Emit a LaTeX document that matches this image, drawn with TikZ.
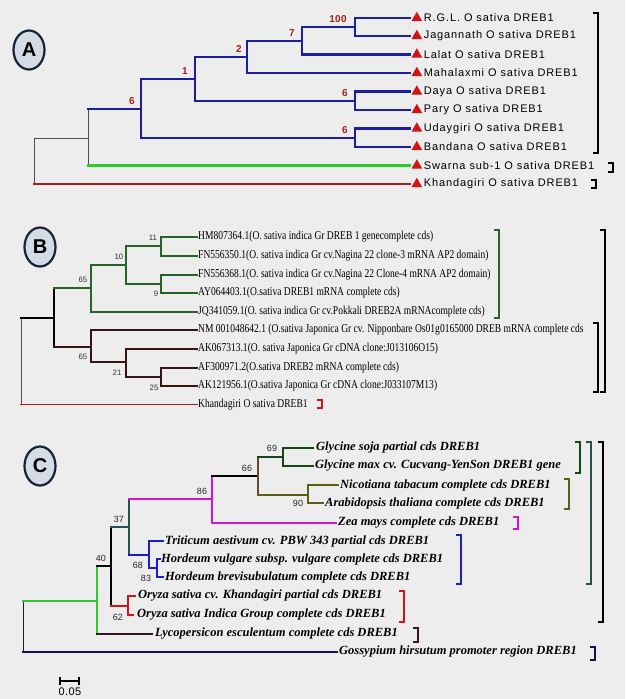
\documentclass[tikz,border=0pt]{standalone}
\usepackage{fontspec}
\setmainfont{Liberation Serif}
\setsansfont{Liberation Sans}
\newfontfamily\leafAfont[LetterSpace=8]{Liberation Sans}
\newfontfamily\leafBfont[FakeStretch=0.795]{Liberation Serif}
\newfontfamily\leafCfont{Liberation Serif}
\newfontfamily\bootfont[LetterSpace=4]{Liberation Sans}
\usetikzlibrary{positioning}
\usetikzlibrary{shapes.geometric}

\definecolor{bg}{RGB}{237,237,237}
\definecolor{panelfill}{RGB}{212,219,229}
\definecolor{panelline}{RGB}{25,35,55}
\definecolor{ablue}{RGB}{30,30,160}
\definecolor{agreen}{RGB}{40,205,40}
\definecolor{ared}{RGB}{170,30,30}
\definecolor{tri}{RGB}{210,20,20}
\definecolor{bootred}{RGB}{160,30,30}
\definecolor{bgreen}{RGB}{40,100,40}
\definecolor{bdark}{RGB}{55,20,20}
\definecolor{cgreen}{RGB}{50,200,50}
\definecolor{cteal}{RGB}{40,80,80}
\definecolor{cmag}{RGB}{210,20,210}
\definecolor{cblue}{RGB}{30,30,200}
\definecolor{cred}{RGB}{210,20,20}
\definecolor{cdgreen}{RGB}{25,70,25}
\definecolor{cbrown}{RGB}{95,75,45}
\definecolor{colive}{RGB}{95,95,20}
\definecolor{cmaroon}{RGB}{55,20,35}
\definecolor{cnavy}{RGB}{20,20,70}

\tikzset{panel/.style = {ellipse, fill=panelfill, draw=panelline, line width=2.2pt,
                         minimum width=31pt, minimum height=39pt, inner sep=0pt,
                         font=\sffamily\bfseries\fontsize{20}{20}\selectfont}}
\tikzset{br/.style = {line cap=rect},
         thinbr/.style = {br, line width=0.9pt, draw=black!70},
         bluebr/.style = {br, line width=2.6pt, draw=ablue},
         greenbr/.style = {br, line width=2.2pt, draw=agreen},
         redbr/.style = {br, line width=1.6pt, draw=ared}}
\tikzset{leafa/.style = {inner sep=0pt, font=\leafAfont\fontsize{11}{13}\selectfont},
         leafb/.style = {inner sep=0pt, font=\leafBfont\fontsize{12}{14}\selectfont},
         leafc/.style = {inner sep=0pt, font=\leafCfont\bfseries\itshape\fontsize{12.5}{14}\selectfont},
         marker/.style = {regular polygon, regular polygon sides=3, fill=tri,
                          minimum size=12.5pt, inner sep=0pt},
         boota/.style = {inner sep=0pt, text=bootred, font=\bootfont\bfseries\fontsize{10}{10}\selectfont},
         bootb/.style = {inner sep=0pt, text=black!80, font=\sffamily\fontsize{7.8}{8}\selectfont},
         bootc/.style = {inner sep=0pt, text=black!85, font=\sffamily\fontsize{9}{9}\selectfont}}

\newcommand{\cladebr}[4]{\draw[#1] (#2-5,#3) -- (#2,#3) -- (#2,#4) -- (#2-5,#4);}

\begin{document}
\begin{tikzpicture}[x=1pt,y=-1pt]
\fill[bg] (0,0) rectangle (625,699);
\useasboundingbox (0,0) rectangle (625,699);

% ---------- A ----------
\node[panel] (pA) at (29,50) {A};

\coordinate (a0) at (34,161);
\coordinate (a1) at (88,138);
\coordinate (a2) at (141,109);
\coordinate (a3) at (195,79);
\coordinate (a4) at (247,57);
\coordinate (a5) at (302,41);
\coordinate (a6) at (355,27);
\coordinate (a7) at (355,101);
\coordinate (a8) at (355,138);

\coordinate (rgl) at (410,18);
\coordinate (jag) at (410,36);
\coordinate (lalat) at (410,54.5);
\coordinate (maha) at (410,73);
\coordinate (daya) at (410,91.5);
\coordinate (pary) at (410,110);
\coordinate (uday) at (410,128.5);
\coordinate (band) at (410,147);
\coordinate (swarna) at (410,165.5);
\coordinate (khandA) at (410,184);

\draw[thinbr] (a0 |- a1) -- (a0 |- khandA);
\draw[thinbr] (a0 |- a1) -- (a1);
\draw[redbr] (a0 |- khandA) -- (khandA);
\draw[thinbr] (a1 |- a2) -- (a1 |- swarna);
\draw[bluebr] (a1 |- a2) -- (a2);
\draw[greenbr] (a1 |- swarna) -- (swarna);
\draw[bluebr] (a2 |- a3) -- (a2 |- a8);
\draw[bluebr] (a2 |- a3) -- (a3);
\draw[bluebr] (a2 |- a8) -- (a8);
\draw[bluebr] (a3 |- a4) -- (a3 |- a7);
\draw[bluebr] (a3 |- a4) -- (a4);
\draw[bluebr] (a3 |- a7) -- (a7);
\draw[bluebr] (a4 |- a5) -- (a4 |- maha);
\draw[bluebr] (a4 |- a5) -- (a5);
\draw[bluebr] (a4 |- maha) -- (maha);
\draw[bluebr] (a5 |- a6) -- (a5 |- lalat);
\draw[bluebr] (a5 |- a6) -- (a6);
\draw[bluebr] (a5 |- lalat) -- (lalat);
\draw[bluebr] (a6 |- rgl) -- (a6 |- jag);
\draw[bluebr] (a6 |- rgl) -- (rgl);
\draw[bluebr] (a6 |- jag) -- (jag);
\draw[bluebr] (a7 |- daya) -- (a7 |- pary);
\draw[bluebr] (a7 |- daya) -- (daya);
\draw[bluebr] (a7 |- pary) -- (pary);
\draw[bluebr] (a8 |- uday) -- (a8 |- band);
\draw[bluebr] (a8 |- uday) -- (uday);
\draw[bluebr] (a8 |- band) -- (band);

\node[boota] (ba2) at (132,101) {6};
\node[boota] (ba3) at (185,71) {1};
\node[boota] (ba4) at (239,49) {2};
\node[boota] (ba5) at (292,33) {7};
\node[boota] (ba6) at (338,19) {100};
\node[boota] (ba7) at (345,93) {6};
\node[boota] (ba8) at (345,130) {6};

\node[marker, right=3pt of rgl] (m1) {};
\node[leafa, right=3pt of m1] (t1) {R.G.L. O sativa DREB1};
\node[marker, right=3pt of jag] (m2) {};
\node[leafa, right=3pt of m2] (t2) {Jagannath O sativa DREB1};
\node[marker, right=3pt of lalat] (m3) {};
\node[leafa, right=3pt of m3] (t3) {Lalat O sativa DREB1};
\node[marker, right=3pt of maha] (m4) {};
\node[leafa, right=3pt of m4] (t4) {Mahalaxmi O sativa DREB1};
\node[marker, right=3pt of daya] (m5) {};
\node[leafa, right=3pt of m5] (t5) {Daya O sativa DREB1};
\node[marker, right=3pt of pary] (m6) {};
\node[leafa, right=3pt of m6] (t6) {Pary O sativa DREB1};
\node[marker, right=3pt of uday] (m7) {};
\node[leafa, right=3pt of m7] (t7) {Udaygiri O sativa DREB1};
\node[marker, right=3pt of band] (m8) {};
\node[leafa, right=3pt of m8] (t8) {Bandana O sativa DREB1};
\node[marker, right=3pt of swarna] (m9) {};
\node[leafa, right=3pt of m9] (t9) {Swarna sub-1 O sativa DREB1};
\node[marker, right=3pt of khandA] (m10) {};
\node[leafa, right=3pt of m10] (t10) {Khandagiri O sativa DREB1};

\cladebr{line width=1.2pt}{598}{13}{153}
\cladebr{line width=1.2pt}{613}{163}{172}
\cladebr{line width=1.2pt}{596}{180}{188}

% ---------- B ----------
\node[panel] (pB) at (40,247) {B};

\coordinate (b0) at (21,361);
\coordinate (b1) at (54,318);
\coordinate (b2) at (91,288);
\coordinate (b3) at (126,265);
\coordinate (b4) at (161,246);
\coordinate (b5) at (161,284);
\coordinate (b6) at (91,347);
\coordinate (b7) at (126,362);
\coordinate (b8) at (161,377);

\coordinate (hm) at (197,237);
\coordinate (fn50) at (197,256);
\coordinate (fn68) at (197,274.5);
\coordinate (ay) at (197,293);
\coordinate (jq) at (197,311.5);
\coordinate (nm) at (197,330);
\coordinate (ak67) at (197,349);
\coordinate (af) at (197,367.5);
\coordinate (ak21) at (197,386);
\coordinate (khandB) at (197,404.5);

\draw[thinbr] (b0 |- b1) -- (b0 |- khandB);
\draw[br, line width=2pt] (b0 |- b1) -- (b1);
\draw[br, line width=1.8pt, draw=ared] (b0 |- khandB) -- (khandB);
\draw[br, line width=2pt] (b1 |- b2) -- (b1 |- b6);
\draw[br, line width=2pt, draw=bgreen] (b1 |- b2) -- (b2);
\draw[br, line width=2pt, draw=bdark] (b1 |- b6) -- (b6);
\draw[br, line width=2pt, draw=bgreen] (b2 |- b3) -- (b2 |- jq);
\draw[br, line width=2pt, draw=bgreen] (b2 |- b3) -- (b3);
\draw[br, line width=2pt, draw=bgreen] (b2 |- jq) -- (jq);
\draw[br, line width=2pt, draw=bgreen] (b3 |- b4) -- (b3 |- b5);
\draw[br, line width=2pt, draw=bgreen] (b3 |- b4) -- (b4);
\draw[br, line width=2pt, draw=bgreen] (b3 |- b5) -- (b5);
\draw[br, line width=2pt, draw=bgreen] (b4 |- hm) -- (b4 |- fn50);
\draw[br, line width=2pt, draw=bgreen] (b4 |- hm) -- (hm);
\draw[br, line width=2pt, draw=bgreen] (b4 |- fn50) -- (fn50);
\draw[br, line width=2pt, draw=bgreen] (b5 |- fn68) -- (b5 |- ay);
\draw[br, line width=2pt, draw=bgreen] (b5 |- fn68) -- (fn68);
\draw[br, line width=2pt, draw=bgreen] (b5 |- ay) -- (ay);
\draw[br, line width=2pt, draw=bdark] (b6 |- nm) -- (b6 |- b7);
\draw[br, line width=2pt, draw=bdark] (b6 |- nm) -- (nm);
\draw[br, line width=2pt, draw=bdark] (b6 |- b7) -- (b7);
\draw[br, line width=2pt, draw=bdark] (b7 |- ak67) -- (b7 |- b8);
\draw[br, line width=2pt, draw=bdark] (b7 |- ak67) -- (ak67);
\draw[br, line width=2pt, draw=bdark] (b7 |- b8) -- (b8);
\draw[br, line width=2pt, draw=bdark] (b8 |- af) -- (b8 |- ak21);
\draw[br, line width=2pt, draw=bdark] (b8 |- af) -- (af);
\draw[br, line width=2pt, draw=bdark] (b8 |- ak21) -- (ak21);

\node[bootb] (bb2) at (83,280) {65};
\node[bootb] (bb3) at (119,257) {10};
\node[bootb] (bb4) at (153,238) {11};
\node[bootb] (bb5) at (156,294) {9};
\node[bootb] (bb6) at (83,357) {65};
\node[bootb] (bb7) at (117,373) {21};
\node[bootb] (bb8) at (154,388) {25};

\node[leafb, right=1pt of hm] (u1) {HM807364.1(O. sativa indica Gr DREB 1 genecomplete cds)};
\node[leafb, right=1pt of fn50] (u2) {FN556350.1(O. sativa indica Gr cv.Nagina 22 clone-3 mRNA AP2 domain)};
\node[leafb, right=1pt of fn68] (u3) {FN556368.1(O. sativa indica Gr cv.Nagina 22 Clone-4 mRNA AP2 domain)};
\node[leafb, right=1pt of ay] (u4) {AY064403.1(O.sativa DREB1 mRNA complete cds)};
\node[leafb, right=1pt of jq] (u5) {JQ341059.1(O. sativa indica Gr cv.Pokkali DREB2A mRNAcomplete cds)};
\node[leafb, right=1pt of nm] (u6) {NM 001048642.1 (O.sativa Japonica Gr cv. Nipponbare Os01g0165000 DREB mRNA complete cds};
\node[leafb, right=1pt of ak67] (u7) {AK067313.1(O. sativa Japonica Gr cDNA clone:J013106O15)};
\node[leafb, right=1pt of af] (u8) {AF300971.2(O.sativa DREB2 mRNA complete cds)};
\node[leafb, right=1pt of ak21] (u9) {AK121956.1(O.sativa Japonica Gr cDNA clone:J033107M13)};
\node[leafb, right=1pt of khandB] (u10) {Khandagiri O sativa DREB1};

\cladebr{line width=2.4pt, draw=bgreen}{499}{230}{318}
\cladebr{line width=2.2pt}{598}{323}{392}
\cladebr{line width=2.2pt}{605}{230}{392}
\cladebr{line width=2pt, draw=cred}{322}{400}{408}

% ---------- C ----------
\node[panel] (pC) at (40,466) {C};

\coordinate (c0) at (23,626);
\coordinate (c1) at (97,601);
\coordinate (c2) at (111,566);
\coordinate (c3) at (129,527);
\coordinate (c4) at (128,606);
\coordinate (c5) at (212,499);
\coordinate (c6) at (258,476);
\coordinate (c7) at (283,457);
\coordinate (c8) at (308,495);
\coordinate (c9) at (149,555);
\coordinate (c10) at (157,568);

\coordinate (gsoja) at (313,448);
\coordinate (gmax) at (313,466);
\coordinate (nico) at (338,485);
\coordinate (arab) at (323,503);
\coordinate (zea) at (336,523);
\coordinate (trit) at (163,541);
\coordinate (hordv) at (160,559);
\coordinate (hordb) at (163,577);
\coordinate (ory1) at (135,596);
\coordinate (ory2) at (133,615);
\coordinate (lyco) at (152,634);
\coordinate (goss) at (337,652);

\draw[br, line width=1pt, draw=cmaroon] (c0 |- c1) -- (c0 |- goss);
\draw[br, line width=2.2pt, draw=cgreen] (c0 |- c1) -- (c1);
\draw[br, line width=1.8pt, draw=cnavy] (c0 |- goss) -- (goss);
\draw[br, line width=2.2pt, draw=cgreen] (c1 |- c2) -- (c1 |- lyco);
\draw[br, line width=1.8pt] (c1 |- c2) -- (c2);
\draw[br, line width=1.8pt, draw=cmaroon] (c1 |- lyco) -- (lyco);
\draw[br, line width=1.8pt] (c2 |- c3) -- (c2 |- c4);
\draw[br, line width=1.8pt, draw=cteal] (c2 |- c3) -- (c3);
\draw[br, line width=1.8pt, draw=cred] (c2 |- c4) -- (c4);
\draw[br, line width=1.8pt, draw=cred] (c4 |- ory1) -- (c4 |- ory2);
\draw[br, line width=1.8pt, draw=cred] (c4 |- ory1) -- (ory1);
\draw[br, line width=1.8pt, draw=cred] (c4 |- ory2) -- (ory2);
\draw[br, line width=1.8pt, draw=cteal] (c3 |- c5) -- (c3 |- c9);
\draw[br, line width=2.2pt, draw=cmag] (c3 |- c5) -- (c5);
\draw[br, line width=1.8pt, draw=cblue] (c3 |- c9) -- (c9);
\draw[br, line width=2.2pt, draw=cmag] (c5 |- c6) -- (c5 |- zea);
\draw[br, line width=1.8pt] (c5 |- c6) -- (c6);
\draw[br, line width=2.2pt, draw=cmag] (c5 |- zea) -- (zea);
\draw[br, line width=1.8pt, draw=cbrown] (c6 |- c7) -- (c6 |- c8);
\draw[br, line width=1.8pt, draw=cdgreen] (c6 |- c7) -- (c7);
\draw[br, line width=1.8pt, draw=colive] (c6 |- c8) -- (c8);
\draw[br, line width=1.8pt, draw=cdgreen] (c7 |- gsoja) -- (c7 |- gmax);
\draw[br, line width=1.8pt, draw=cdgreen] (c7 |- gsoja) -- (gsoja);
\draw[br, line width=1.8pt, draw=cdgreen] (c7 |- gmax) -- (gmax);
\draw[br, line width=1.8pt, draw=colive] (c8 |- nico) -- (c8 |- arab);
\draw[br, line width=1.8pt, draw=colive] (c8 |- nico) -- (nico);
\draw[br, line width=1.8pt, draw=colive] (c8 |- arab) -- (arab);
\draw[br, line width=1.8pt, draw=cblue] (c9 |- trit) -- (c9 |- c10);
\draw[br, line width=1.8pt, draw=cblue] (c9 |- trit) -- (trit);
\draw[br, line width=1.8pt, draw=cblue] (c9 |- c10) -- (c10);
\draw[br, line width=1.8pt, draw=cblue] (c10 |- hordv) -- (c10 |- hordb);
\draw[br, line width=1.8pt, draw=cblue] (c10 |- hordv) -- (hordv);
\draw[br, line width=1.8pt, draw=cblue] (c10 |- hordb) -- (hordb);

\node[bootc] (bc1) at (101,558) {40};
\node[bootc] (bc2) at (119,519) {37};
\node[bootc] (bc4) at (118,617) {62};
\node[bootc] (bc5) at (202,491) {86};
\node[bootc] (bc6) at (247,468) {66};
\node[bootc] (bc7) at (272,448) {69};
\node[bootc] (bc8) at (298,503) {90};
\node[bootc] (bc9) at (138,565) {68};
\node[bootc] (bc10) at (146,578) {83};

\node[leafc, right=3pt of gsoja] (v1) {Glycine soja partial cds DREB1};
\node[leafc, right=2pt of gmax] (v2) {Glycine max cv. Cucvang-YenSon DREB1 gene};
\node[leafc, right=2pt of nico] (v3) {Nicotiana tabacum complete cds DREB1};
\node[leafc, right=2pt of arab] (v4) {Arabidopsis thaliana complete cds DREB1};
\node[leafc, right=2pt of zea] (v5) {Zea mays complete cds DREB1};
\node[leafc, right=2pt of trit] (v6) {Triticum aestivum cv. PBW 343 partial cds DREB1};
\node[leafc, right=1pt of hordv] (v7) {Hordeum vulgare subsp. vulgare complete cds DREB1};
\node[leafc, right=2pt of hordb] (v8) {Hordeum brevisubulatum complete cds DREB1};
\node[leafc, right=3pt of ory1] (v9) {Oryza sativa cv. Khandagiri partial cds DREB1};
\node[leafc, right=4pt of ory2] (v10) {Oryza sativa Indica Group complete cds DREB1};
\node[leafc, right=3pt of lyco] (v11) {Lycopersicon esculentum complete cds DREB1};
\node[leafc, right=2pt of goss] (v12) {Gossypium hirsutum promoter region DREB1};

\cladebr{line width=2pt, draw=cdgreen}{580}{442}{473}
\cladebr{line width=2pt, draw=cteal}{591}{442}{584}
\cladebr{line width=2pt}{603}{442}{622}
\cladebr{line width=2pt, draw=colive}{569}{479}{509}
\cladebr{line width=2pt, draw=cmag}{518}{517}{529}
\cladebr{line width=2pt, draw=cblue}{461}{535}{584}
\cladebr{line width=2pt, draw=cred}{404}{591}{622}
\cladebr{line width=2pt, draw=cmaroon}{418}{628}{642}
\cladebr{line width=2pt, draw=cnavy}{595}{647}{660}

% scale bar
\coordinate (s1) at (60,681);
\coordinate (s2) at (79,681);
\draw[line width=1.3pt] (s1) -- (s2);
\draw[line width=1.3pt] ([yshift=-4pt]s1) -- ([yshift=4pt]s1);
\draw[line width=1.3pt] ([yshift=-4pt]s2) -- ([yshift=4pt]s2);
\node[inner sep=0pt, font=\bootfont\fontsize{11}{11}\selectfont] (sl) at (70,692) {0.05};
\end{tikzpicture}
\end{document}
